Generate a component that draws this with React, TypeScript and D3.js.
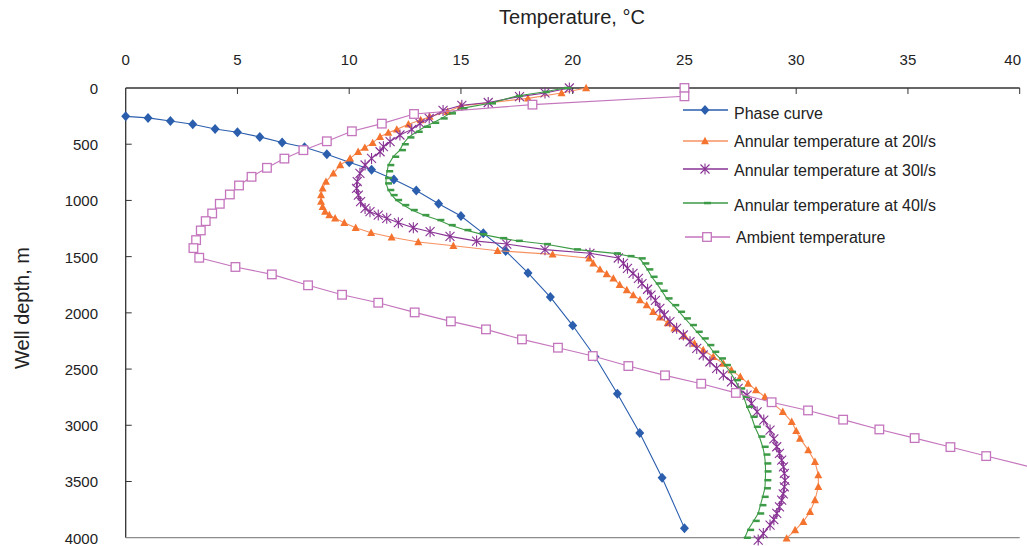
import React from 'react';
import * as d3 from 'd3';

// [temperature °C, depth m]
const phaseCurve: [number, number][] = [
  [0, 252], [1, 266], [2, 293], [3, 323], [4, 364], [5, 394], [6, 435], [7, 485],
  [8, 527], [9, 589], [10, 660], [11, 728], [12, 814], [13, 912], [14, 1030],
  [15, 1139], [16, 1293], [17, 1450], [18, 1645], [19, 1860], [20, 2113],
  [21, 2390], [22, 2720], [23, 3069], [24, 3467], [25, 3915],
];

const annular20: [number, number][] = [
  [20.6, 0], [19.5, 45], [18.0, 92], [15.0, 160], [14.4, 211], [13.6, 255], [13.2, 285],
  [12.65, 323], [12.13, 368], [11.75, 397], [11.38, 433], [11.05, 488], [10.7, 530],
  [10.4, 567], [10.04, 626], [9.6, 685], [9.29, 759], [8.96, 833], [8.81, 893],
  [8.74, 952], [8.74, 1011], [8.81, 1056], [8.92, 1100], [9.11, 1130], [9.37, 1159],
  [9.78, 1198], [10.29, 1243], [10.98, 1287], [11.9, 1328], [13.09, 1370], [14.66, 1403],
  [16.64, 1447], [19.1, 1480], [20.74, 1515], [20.92, 1560], [21.22, 1613], [21.52, 1655],
  [21.82, 1693], [22.1, 1750], [22.42, 1797], [22.71, 1842], [23.01, 1886], [23.31, 1931],
  [23.6, 1990], [23.9, 2040], [24.25, 2090], [24.55, 2138], [25.0, 2206], [25.45, 2272],
  [25.84, 2331], [26.29, 2391], [26.74, 2450], [27.1, 2509], [27.5, 2569], [27.85, 2628],
  [28.2, 2687], [28.6, 2746], [28.95, 2805], [29.4, 2880], [29.8, 2969], [30.0, 3050],
  [30.17, 3117], [30.54, 3221], [30.84, 3324], [30.99, 3443], [30.99, 3547], [30.84, 3665],
  [30.62, 3769], [30.32, 3858], [29.95, 3932], [29.57, 4006],
];

const annular30: [number, number][] = [
  [19.85, 0], [18.76, 44], [17.62, 77], [16.22, 129], [15.04, 154], [14.2, 200],
  [13.58, 270], [13.17, 314], [12.8, 368], [12.27, 418], [11.83, 477], [11.53, 522],
  [11.38, 567], [11.0, 626], [10.71, 685], [10.48, 759], [10.36, 833], [10.33, 893],
  [10.41, 952], [10.51, 1011], [10.71, 1071], [10.93, 1100], [11.3, 1130], [11.68, 1159],
  [12.2, 1198], [12.87, 1243], [13.62, 1278], [14.51, 1320], [15.7, 1362], [17.05, 1388],
  [18.76, 1438], [20.77, 1470], [22.04, 1512], [22.27, 1560], [22.45, 1604], [22.7, 1649],
  [22.94, 1693], [23.1, 1740], [23.35, 1790], [23.5, 1842], [23.7, 1890], [23.9, 1960],
  [24.1, 2019], [24.35, 2079], [24.65, 2138], [24.95, 2197], [25.25, 2257], [25.55, 2316],
  [25.84, 2375], [26.14, 2435], [26.44, 2494], [26.74, 2553], [27.1, 2613], [27.4, 2672],
  [27.8, 2731], [28.0, 2805], [28.25, 2880], [28.55, 2954], [28.83, 3043], [29.0, 3120],
  [29.13, 3191], [29.25, 3250], [29.35, 3310], [29.43, 3370], [29.47, 3428], [29.5, 3490],
  [29.47, 3547], [29.42, 3610], [29.35, 3665], [29.25, 3725], [29.13, 3784], [29.0, 3840],
  [28.83, 3888], [28.53, 3962], [28.3, 4021],
];

const annular40: [number, number][] = [
  [19.66, 0], [18.7, 35], [17.5, 71], [16.3, 136], [15.03, 181], [14.51, 225], [14.14, 270],
  [13.76, 309], [13.39, 344], [13.02, 389], [12.65, 439], [12.4, 500], [12.27, 552],
  [11.97, 611], [11.75, 685], [11.7, 740], [11.65, 800], [11.65, 848], [11.75, 907],
  [11.9, 952], [12.1, 996], [12.42, 1041], [12.8, 1085], [13.32, 1130], [13.99, 1174],
  [14.5, 1219], [15.2, 1263], [15.9, 1300], [16.8, 1335], [17.5, 1359], [18.76, 1388],
  [20.1, 1435], [21.89, 1471], [22.5, 1495], [23.0, 1515], [23.16, 1560], [23.34, 1613],
  [23.53, 1679], [23.76, 1738], [23.98, 1803], [24.2, 1871], [24.5, 1931], [24.76, 1990],
  [25.02, 2049], [25.29, 2108], [25.55, 2168], [25.82, 2227], [26.07, 2286], [26.29, 2346],
  [26.59, 2405], [26.81, 2464], [27.04, 2524], [27.26, 2598], [27.45, 2672], [27.65, 2746],
  [27.8, 2835], [28.0, 2924], [28.15, 3013], [28.35, 3100], [28.5, 3191], [28.58, 3260],
  [28.62, 3339], [28.63, 3410], [28.62, 3488], [28.6, 3560], [28.5, 3636], [28.4, 3710],
  [28.3, 3784], [28.1, 3850], [27.85, 3930], [27.7, 4000],
];

const ambient: [number, number][] = [
  [25.0, 0], [25.0, 74], [18.2, 148], [12.9, 231], [11.46, 317], [10.12, 385], [9.0, 474],
  [7.95, 553], [7.1, 628], [6.32, 710], [5.63, 790], [5.07, 867], [4.66, 947], [4.21, 1030],
  [3.87, 1116], [3.58, 1184], [3.36, 1267], [3.15, 1353], [3.03, 1424], [3.29, 1510],
  [4.91, 1592], [6.54, 1658], [8.16, 1755], [9.68, 1839], [11.3, 1910], [12.93, 1996],
  [14.55, 2076], [16.12, 2147], [17.73, 2236], [19.34, 2310], [20.9, 2384], [22.49, 2473],
  [24.13, 2556], [25.75, 2630], [27.3, 2712], [28.9, 2795], [30.53, 2868], [32.1, 2950],
  [33.72, 3037], [35.3, 3114], [36.9, 3194], [38.5, 3274], [41.7, 3430],
];

const xTicks = [0, 5, 10, 15, 20, 25, 30, 35, 40];
const yTicks = [0, 500, 1000, 1500, 2000, 2500, 3000, 3500, 4000];

const C_PHASE = '#2b5ead';
const C_20 = '#f4732e';
const C_20_LINE = '#f79160';
const C_30 = '#883394';
const C_40 = '#3d9a46';
const C_AMB = '#c475bd';
const FONT = '"Liberation Sans", Arial, sans-serif';

const W = 1027;
const H = 546;

const x = d3.scaleLinear().domain([0, 40]).range([125.7, 1019.7]);
const y = d3.scaleLinear().domain([0, 4000]).range([88, 537.7]);

const line = d3
  .line<[number, number]>()
  .x((d) => x(d[0]))
  .y((d) => y(d[1]));

const diamond = (cx: number, cy: number, key: string | number) => (
  <path key={key} d={`M${cx},${cy - 5}L${cx + 4.5},${cy}L${cx},${cy + 5}L${cx - 4.5},${cy}Z`} fill={C_PHASE} />
);
const triangle = (cx: number, cy: number, key: string | number) => (
  <path key={key} d={`M${cx},${cy - 4.2}L${cx + 4},${cy + 3.2}L${cx - 4},${cy + 3.2}Z`} fill={C_20} />
);
const asterisk = (cx: number, cy: number, key: string | number) => (
  <path
    key={key}
    d={`M${cx},${cy - 5.5}V${cy + 5.5}M${cx - 4.5},${cy - 4.5}L${cx + 4.5},${cy + 4.5}M${cx + 4.5},${cy - 4.5}L${cx - 4.5},${cy + 4.5}`}
    stroke={C_30}
    strokeWidth={1.1}
    fill="none"
  />
);
const dash = (cx: number, cy: number, key: string | number) => (
  <rect key={key} x={cx - 1} y={cy - 1.2} width={7} height={2.5} fill={C_40} />
);
const square = (cx: number, cy: number, key: string | number) => (
  <rect key={key} x={cx - 4.3} y={cy - 4.3} width={8.6} height={8.6} fill="#fff" stroke={C_AMB} strokeWidth={1.3} />
);

const series = [
  { data: phaseCurve, color: C_PHASE, marker: diamond, name: 'Phase curve' },
  { data: annular20, color: C_20_LINE, marker: triangle, name: 'Annular temperature at 20l/s' },
  { data: annular30, color: C_30, marker: asterisk, name: 'Annular temperature at 30l/s' },
  { data: annular40, color: C_40, marker: dash, name: 'Annular temperature at 40l/s' },
  { data: ambient, color: C_AMB, marker: square, name: 'Ambient temperature' },
];

// legend rows: line y, text baseline
const legendRows = [
  [110, 119],
  [141, 147],
  [169, 176],
  [203, 211],
  [237, 243],
];

export default function App() {
  return (
    <div style={{ position: 'absolute', left: 0, top: 0 }}>
      <svg width={W} height={H} style={{ display: 'block', background: '#fff' }} fontFamily={FONT}>
        {/* axes */}
        <line x1={x(0)} x2={x(40)} y1={y(0)} y2={y(0)} stroke="#333" strokeWidth={1.3} />
        <line x1={x(0)} x2={x(0)} y1={y(0)} y2={y(4000)} stroke="#333" strokeWidth={1.3} />
        <line x1={x(0)} x2={x(40)} y1={y(4000)} y2={y(4000)} stroke="#8c8c8c" strokeWidth={1.3} />
        {xTicks.map((t) => (
          <g key={'xt' + t}>
            {t > 0 && <line x1={x(t)} x2={x(t)} y1={y(0)} y2={y(0) + 6} stroke="#333" strokeWidth={1} />}
            <text x={t === 40 ? x(t) - 7 : x(t)} y={65} textAnchor="middle" fontSize={15} fill="#222">
              {t}
            </text>
          </g>
        ))}
        {yTicks.map((t) => (
          <g key={'yt' + t}>
            {t > 0 && t < 4000 && <line x1={x(0)} x2={x(0) + 6} y1={y(t)} y2={y(t)} stroke="#333" strokeWidth={1} />}
            <text x={98} y={y(t) + 6} textAnchor="end" fontSize={15} fill="#222">
              {t}
            </text>
          </g>
        ))}
        <text x={572} y={24} textAnchor="middle" fontSize={20} fill="#222">
          Temperature, °C
        </text>
        <text transform="translate(29,308) rotate(-90)" textAnchor="middle" fontSize={20} fill="#222">
          Well depth, m
        </text>

        {/* series */}
        {series.map((s, i) => (
          <g key={'s' + i}>
            <path d={line(s.data) ?? ''} fill="none" stroke={s.color} strokeWidth={1.1} />
            {s.data.map((d, j) => s.marker(x(d[0]), y(d[1]), j))}
          </g>
        ))}

        {/* legend */}
        {series.map((s, i) => {
          const [ly, ty] = legendRows[i];
          const x0 = i === 4 ? 685 : 683;
          return (
            <g key={'lg' + i}>
              <line x1={x0} x2={x0 + 45} y1={ly} y2={ly} stroke={s.color} strokeWidth={1.3} />
              {s.marker(x0 + 22, ly, 'm')}
              <text x={x0 + 51} y={ty} fontSize={16} fill="#222">
                {s.name}
              </text>
            </g>
          );
        })}
      </svg>
    </div>
  );
}
